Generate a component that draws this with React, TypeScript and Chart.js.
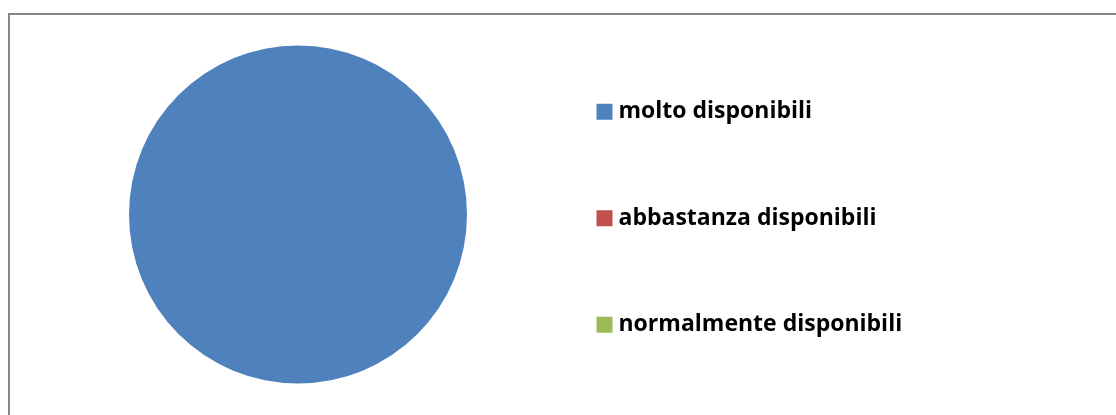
import React, { useEffect, useRef } from "react";
import { Chart, registerables } from "chart.js";

Chart.register(...registerables);

const categories = ["molto disponibili", "abbastanza disponibili", "normalmente disponibili"];
const values = [100, 0, 0];
const colors = ["#4F81BD", "#C0504D", "#9BBB59"];

const CANVAS_W = 1106;
const CANVAS_H = 429;
const FONT_FAMILY = "'Open Sans', sans-serif";
const FONT_SIZE = 23;
const ITEM_GAP = 106.4;
const LEG_PAD = ITEM_GAP - FONT_SIZE;
const BOX_W = 5;
const BOX_H = 16;
const PIE_CX = 288;
const PIE_R = 169;
const LEGEND_LEFT = 592 - LEG_PAD;

export default function App() {
  const ref = useRef<HTMLCanvasElement>(null);

  useEffect(() => {
    if (!ref.current) return;
    const mctx = document.createElement("canvas").getContext("2d")!;
    mctx.font = `bold ${FONT_SIZE}px ${FONT_FAMILY}`;
    const maxText = Math.max(...categories.map((c) => mctx.measureText(c).width));
    const legendWidth = LEG_PAD + BOX_W + FONT_SIZE / 2 + maxText + 10;
    const padRight = Math.max(0, CANVAS_W - LEGEND_LEFT - legendWidth);
    const padLeft = 2 * PIE_CX - LEGEND_LEFT;

    const chart = new Chart(ref.current, {
      type: "pie",
      data: {
        labels: categories,
        datasets: [
          {
            data: values,
            backgroundColor: colors,
            borderWidth: 0,
            hoverOffset: 0,
            offset: 0,
            radius: PIE_R,
          } as any,
        ],
      },
      options: {
        responsive: false,
        maintainAspectRatio: false,
        animation: false,
        events: [],
        layout: { padding: { left: padLeft, right: padRight, top: 0, bottom: 0 } },
        plugins: {
          tooltip: { enabled: false },
          legend: {
            position: "right",
            align: "center",
            title: {
              display: true,
              text: " ",
              font: { size: 6, lineHeight: 1.25 },
              padding: 0,
            },
            labels: {
              usePointStyle: true,
              pointStyle: "rect",
              boxWidth: BOX_W,
              boxHeight: BOX_H,
              padding: LEG_PAD,
              color: "#000000",
              font: { family: FONT_FAMILY, size: FONT_SIZE, weight: "bold" },
            },
          } as any,
        },
      },
    });
    return () => chart.destroy();
  }, []);

  return (
    <div style={{ position: "fixed", left: 0, top: 0, width: 1116, height: 415, overflow: "hidden", background: "#ffffff" }}>
      <div
        style={{
          position: "absolute",
          left: 8,
          top: 13,
          width: 1200,
          height: 500,
          border: "2px solid #878787",
          boxSizing: "border-box",
        }}
      />
      <canvas
        ref={ref}
        width={CANVAS_W}
        height={CANVAS_H}
        style={{ position: "absolute", left: 10, top: 0, width: CANVAS_W, height: CANVAS_H }}
      />
    </div>
  );
}
